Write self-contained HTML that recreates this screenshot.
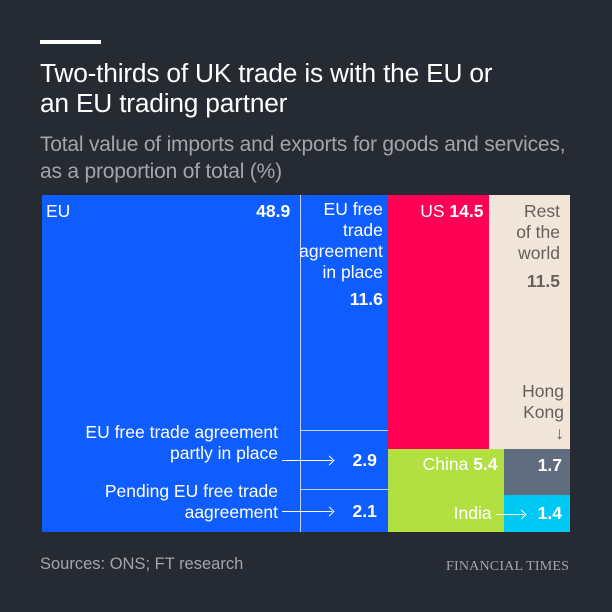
<!DOCTYPE html>
<html><head><meta charset="utf-8"><style>
body{margin:0;background:#262a33;font-family:"Liberation Sans",sans-serif;}
#wrap{position:relative;width:612px;height:612px;overflow:hidden;background:#262a33;}
.t{position:absolute;white-space:nowrap;}
.cell{position:absolute;box-sizing:border-box;}
.lbl{position:absolute;color:#fff;font-size:17.5px;line-height:21px;white-space:nowrap;}
.b{font-weight:bold;}
.ah{position:absolute;width:7px;height:7px;border-top:1.5px solid #fff;border-right:1.5px solid #fff;box-sizing:border-box;}
</style></head><body>
<div id="wrap">
<div class="t" style="left:40px;top:40px;width:61px;height:4px;background:#fff"></div>
<div class="t" style="left:40px;top:58px;color:#fff;font-size:26.3px;line-height:30px;letter-spacing:-0.2px">Two-thirds of UK trade is with the EU or<br>an EU trading partner</div>
<div class="t" style="left:40px;top:131px;color:#a3a5a9;font-size:21px;line-height:27px;letter-spacing:-0.2px">Total value of imports and exports for goods and services,<br>as a proportion of total (%)</div>
<div id="plot" style="position:absolute;left:42px;top:195px;width:528px;height:337px"></div>
<div class="t" style="left:40px;top:555px;color:#a3a5a9;font-size:16.5px">Sources: ONS; FT research</div>
<div class="t" style="left:446px;top:559px;color:#a3a5a9;font-family:'Liberation Serif',serif;font-size:14px;letter-spacing:0.2px">FINANCIAL TIMES</div>
</div>
<script>
const euCategories=["EU","EU FTA in place","EU FTA partly in place","Pending EU FTA"];
const euValues=[48.9,11.6,2.9,2.1];
const otherTop=["US","Rest of the world"];
const otherTopValues=[14.5,11.5];
const otherBottom=["China","Hong Kong","India"];
const otherBottomValues=[5.4,1.7,1.4];
const W=528,H=337;
const plot=document.getElementById('plot');
const sum=a=>a.reduce((x,y)=>x+y,0);
const total=sum(euValues)+sum(otherTopValues)+sum(otherBottomValues);
function cell(x,y,w,h,c,name){const d=document.createElement('div');d.className='cell';


d.style.cssText+=`left:${x}px;top:${y}px;width:${w}px;height:${h}px;background:${c}`;plot.appendChild(d);return d;}
function lab(x,y,html,name,align){const d=document.createElement('div');d.className='lbl';


d.innerHTML=html;d.style.top=y+'px';if(align==='r'){d.style.right=(W-x)+'px';d.style.textAlign='right';}else d.style.left=x+'px';plot.appendChild(d);return d;}
function line(x,y,w,h,name,c){const d=document.createElement('div');d.className='cell';


d.style.cssText+=`left:${x}px;top:${y}px;width:${w}px;height:${h}px;background:${c||'rgba(255,255,255,0.75)'}`;plot.appendChild(d);}
function arrow(x1,x2,y,name){line(x1,y,x2-x1,1.5,name,'#fff');const h=document.createElement('div');h.className='ah';


h.style.left=(x2-6)+'px';h.style.top=(y-2.8)+'px';h.style.transform='rotate(45deg)';plot.appendChild(h);}
const euSum=sum(euValues);const bw=euSum/total*W;
cell(0,0,bw,H,'#0f5cff','eu-block');
const ew=euValues[0]/euSum*bw;
line(ew,0,1,H,'eu-divider');
const subH=[euValues[1],euValues[2],euValues[3]].map(v=>v/sum(euValues.slice(1))*H);
const y1=subH[0],y2=y1+subH[1];
line(ew,y1,bw-ew,1,'fta-partly-divider');line(ew,y2,bw-ew,1,'fta-pending-divider');
lab(4,6,'EU','eu-label');
lab(ew-10,6,'<span class="b">'+euValues[0].toFixed(1)+'</span>','eu-value','r');
lab(bw-5,4,'EU free<br>trade<br>agreement<br>in place<br><span class="b" style="line-height:32px">'+euValues[1].toFixed(1)+'</span>','fta-in-place-label','r');
lab(bw-11,y1+(subH[1]-21)/2+1,'<span class="b">'+euValues[2].toFixed(1)+'</span>','fta-partly-value','r');
lab(bw-11,y2+(subH[2]-21)/2+1,'<span class="b">'+euValues[3].toFixed(1)+'</span>','fta-pending-value','r');
lab(236,y1-8,'EU free trade agreement<br>partly in place','fta-partly-label','r');
lab(236,y2-8,'Pending EU free trade<br>aagreement','fta-pending-label','r');
arrow(240,290,y1+(subH[1])/2,'fta-partly-arrow');arrow(240,290,y2+subH[2]/2,'fta-pending-arrow');
const rw=W-bw;const rest=sum(otherTopValues)+sum(otherBottomValues);
const th=sum(otherTopValues)/rest*H;
const usw=otherTopValues[0]/sum(otherTopValues)*rw;
cell(bw,0,usw,th,'#ff0055','us-block');
cell(bw+usw,0,rw-usw,th,'#f2e5da','rest-block');
lab(bw+usw-6,6,'US <span class="b">'+otherTopValues[0].toFixed(1)+'</span>','us-label','r');
const rl=lab(W-10,6,'Rest<br>of the<br>world<br><span class="b" style="line-height:34px">'+otherTopValues[1].toFixed(1)+'</span>','rest-label','r');rl.style.color='#66605c';
const hkl=lab(W-6,th-68,'Hong<br>Kong<br>↓','hk-label','r');hkl.style.color='#66605c';
const bh=H-th;const cw=otherBottomValues[0]/sum(otherBottomValues)*rw;
cell(bw,th,cw,bh,'#b1e040','china-block');
const hkh=otherBottomValues[1]/(otherBottomValues[1]+otherBottomValues[2])*bh;
cell(bw+cw,th,rw-cw,hkh,'#5f6d7e','hk-block');
cell(bw+cw,th+hkh,rw-cw,bh-hkh,'#00c8f5','india-block');
lab(bw+cw-6,th+5,'China <span class="b">'+otherBottomValues[0].toFixed(1)+'</span>','china-label','r');
lab(W-8,th+6,'<span class="b">'+otherBottomValues[1].toFixed(1)+'</span>','hk-value','r');
lab(W-8,th+hkh+8,'<span class="b">'+otherBottomValues[2].toFixed(1)+'</span>','india-value','r');
lab(bw+cw-12,th+hkh+8,'India','india-label','r');
arrow(bw+cw-8,bw+cw+20,th+hkh+19,'india-arrow');
</script>
</body></html>
